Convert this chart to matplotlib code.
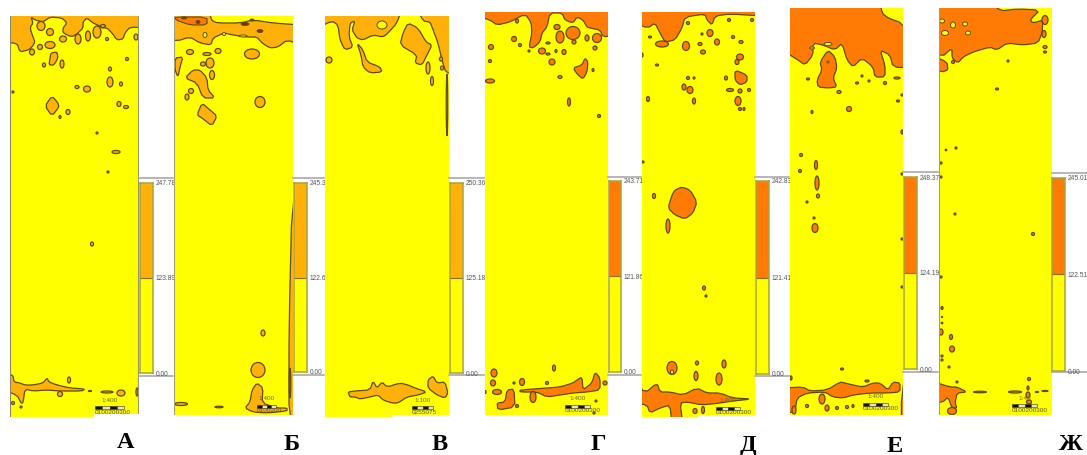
import matplotlib
matplotlib.use("Agg")
import matplotlib.pyplot as plt
from matplotlib.patches import Polygon, Ellipse, Rectangle
import numpy as np

W, H = 1087, 455
YELLOW = "#FFFF00"
AMBER = "#FFB10A"
ORANGE = "#FF7B05"
EDGE = "#5E4A12"

PANEL_NAMES = ["А", "Б", "В", "Г", "Д", "Е", "Ж"]
LABEL_X = [126, 292, 440, 598, 748, 895, 1071]
LABEL_Y = [443, 444, 445, 444, 445, 446, 444]
PANEL_BOX = [(10, 139, 16, 417), (174, 293, 16, 415), (325, 449, 16, 417), (485, 608, 12, 415),
             (642, 755, 12, 417), (790, 903, 8, 415), (939, 1052, 8, 415)]
PANEL_NOTCH = [(94, 414), None, (392, 415), None, (698, 415), None, None]
PANEL_FILL = [AMBER, AMBER, AMBER, ORANGE, ORANGE, ORANGE, ORANGE]
LEGEND_MAX = [247.78, 245.39, 250.36, 243.71, 242.83, 248.37, 245.01]
LEGEND_MID = [123.89, 122.69, 125.18, 121.86, 121.41, 124.19, 122.51]
LEGEND_BAR = [(140, 153, 183, 373), (294, 307, 183, 372), (450, 463, 183, 373), (609, 621, 181, 372),
              (756, 769, 181, 374), (904, 917, 177, 369), (1052, 1065, 178, 371)]
LEGEND_FRAME = [(139, 173, 178, 376), (293, 324, 178, 375), (449, 484, 178, 375), (608, 641, 177, 375),
                (755, 789, 177, 376), (903, 938, 172, 372), (1052, 1087, 173, 372)]
SCALE_TEXT = ["1:400", "1:400", "1:100", "1:400", "1:400", "1:400", "1:40"]
SCALE_BAR = [(95, 124, 406), (257, 276, 405), (412, 433, 406), (565, 590, 405),
             (716, 740, 407), (863, 888, 403), (1012, 1037, 404)]
SCALE_TICKS = ["0100200300", "0100200", "0255075", "0100200300",
               "0100200300", "0100200300", "0100200300"]

A_POLYS = [
    [(10,16),(139,16),(139,28),(130,27),(125,33),(123,39),(117,40),(112,33),(107,28),(102,28),(100,26),(93,23),(87,18),(83,22),(83,28),(78,33),(72,37),(63,33),(63,28),(67,23),(62,18),(50,17),(43,22),(35,20),(31,17),(33,23),(30,28),(33,37),(35,42),(32,47),(28,50),(20,52),(17,43),(10,43)],
    [(52,96),(58,103),(59,107),(52,116),(45,106)],
    [(51,53),(57,52),(58,58),(54,65),(49,65),(50,58)],
    [(10,373),(13,375),(14,382),(20,383),(25,385),(33,385),(43,383),(47,378),(49,382),(57,385),(70,388),(85,389),(82,391),(60,391),(47,390),(33,391),(25,389),(23,403),(21,403),(17,395),(10,390)],
]
A_DOTS = [(50,45,10,7),(97,32,8,12),(110,82,6,10),(87,89,7,6),(119,104,4,5),(126,107,5,3),(68,112,4,5),(60,117,2,3),(121,84,3,4),(110,69,3,4),(127,59,3,3),(77,87,4,3),(62,64,4,8),(44,65,3,4),(13,92,2,2),(107,39,3,3),(136,37,4,6),(40,47,5,5),(32,52,5,6),(50,32,7,7),(63,39,7,6),(78,39,6,10),(88,36,5,10),(41,26,8,9),(103,26,5,3),(116,152,8,3),(97,133,2,2),(108,172,2,2),(92,244,3,4),(69,380,3,6),(60,394,5,5),(21,407,2,2),(13,403,3,3),(107,392,12,2),(121,393,8,6),(137,392,2,8),(90,391,3,1)]
A_HOLES = []

B_POLYS = [
    [(174,16),(210,16),(211,20),(217,23),(240,23),(253,20),(273,23),(293,25),(293,45),(287,40),(278,47),(270,48),(262,43),(257,37),(247,37),(233,35),(224,33),(213,38),(211,45),(200,43),(190,37),(177,41),(174,38)],
    [(200,70),(207,78),(208,90),(215,98),(203,98),(197,83),(185,78),(193,70)],
    [(202,103),(210,110),(217,116),(212,126),(202,118),(197,115)],
    [(175,58),(183,57),(180,67),(178,77),(175,70)],
    [(257,383),(263,388),(262,403),(277,408),(287,408),(287,411),(267,413),(253,412),(245,408),(250,402),(252,390)],
    [(292,200),(293,200),(293,415),(289,415),(289,330)],
]
B_DOTS = [(260,102,10,11),(252,54,15,10),(210,63,8,10),(203,64,5,4),(190,52,7,5),(218,51,6,5),(207,54,8,3),(212,75,5,9),(191,91,5,5),(187,97,4,6),(263,333,4,6),(258,370,14,15),(181,404,13,3),(219,407,8,1.5),(290,383,1.5,30)]
B_HOLES = [(205,35,4,5),(224,34,3,3),(243,36,8,2)]
B_DARK = [[(175,17),(207,17),(207,25),(190,25),(176,20)]]
B_SPECKS = [(245,24,8,3),(260,31,6,3),(184,18,5,2),(198,22,4,3),(252,20,4,2)]

C_POLYS = [
    [(417,16),(449,16),(449,73),(446,73),(442,60),(438,43),(432,27),(430,22),(423,21)],
    [(335,16),(402,16),(397,23),(388,33),(383,37),(373,35),(363,40),(357,38),(352,30),(355,21),(350,23),(349,37),(353,47),(345,50),(340,40),(338,25),(332,21),(325,28),(325,19)],
    [(408,23),(418,28),(426,42),(432,45),(427,55),(422,65),(415,63),(417,55),(400,45),(403,33)],
    [(357,43),(363,50),(367,62),(380,67),(382,72),(370,73),(363,67),(361,55)],
    [(348,392),(355,391),(370,390),(373,381),(377,388),(382,382),(387,387),(400,383),(408,385),(415,388),(427,392),(418,395),(407,397),(398,403),(392,403),(383,400),(378,395),(370,397),(360,399),(355,397),(350,397)],
    [(433,376),(437,383),(445,382),(448,393),(445,398),(437,395),(428,388),(428,380)],
]
C_DOTS = [(329,60,6,6),(428,68,4,12),(432,81,3,9),(442,68,3,4),(441,59,3,4),(447,105,1.5,62)]
C_HOLES = [(382,25,10,8)]

D_POLYS = [
    [(485,12),(608,12),(608,35),(603,37),(600,30),(590,28),(587,27),(583,20),(577,17),(573,23),(565,20),(562,13),(550,13),(547,27),(542,33),(540,42),(533,48),(529,47),(532,33),(531,22),(525,14),(510,22),(497,25),(490,20),(485,16)],
    [(585,58),(588,62),(587,72),(583,79),(578,75),(573,68),(582,65)],
    [(520,390),(547,388),(560,387),(573,383),(577,380),(582,377),(583,390),(592,383),(595,372),(600,378),(600,390),(587,392),(573,393),(560,395),(547,397),(537,392),(520,392)],
    [(507,390),(514,389),(515,407),(498,410),(497,403),(505,402)],
]
D_DOTS = [(560,37,8,12),(573,33,14,13),(597,38,9,9),(587,38,4,6),(574,42,4,4),(557,27,6,5),(548,43,4,2),(542,51,7,6),(552,62,6,6),(520,45,3,3),(514,39,5,5),(491,47,5,5),(490,61,3,3),(490,81,9,4),(517,21,3,4),(529,51,2,2),(548,54,4,2),(556,51,2,3),(564,52,4,5),(560,77,4,3),(569,102,3,8),(599,116,3,3),(595,48,4,4),(593,70,2,3),(494,373,6,8),(493,383,5,6),(497,392,9,5),(522,382,5,7),(533,397,6,11),(554,368,3,6),(547,383,3,3),(514,383,2,2),(605,383,4,4),(596,401,2,2),(517,406,3,3),(594,413,2,2),(485,392,2,3)]
D_HOLES = []

E_POLYS = [
    [(642,12),(755,12),(755,16),(730,14),(715,16),(712,25),(707,20),(705,14),(685,17),(682,28),(675,40),(665,42),(660,33),(655,23),(648,28),(642,23)],
    [(735,70),(747,75),(747,82),(740,85),(735,80)],
    [(682,187),(690,190),(697,202),(693,213),(685,219),(675,215),(668,208),(672,195),(675,190)],
    [(642,380),(645,393),(657,383),(660,392),(670,392),(683,395),(697,388),(707,393),(720,393),(733,398),(752,399),(733,401),(720,403),(702,405),(687,402),(680,403),(683,417),(672,417),(670,405),(660,408),(650,413),(647,405),(642,403)],
]
E_DOTS = [(662,44,13,6),(686,46,7,9),(710,33,6,7),(717,42,5,6),(700,44,4,3),(703,52,5,4),(733,37,3,3),(741,42,4,3),(650,37,3,2),(688,23,3,3),(702,34,2,2),(729,20,3,3),(752,20,3,3),(657,65,3,2),(740,57,7,6),(737,62,4,5),(726,78,3,4),(730,90,7,3),(740,91,4,4),(749,90,3,3),(738,101,6,9),(740,109,3,3),(744,109,2,3),(688,78,3,3),(694,78,2,2),(684,87,4,6),(690,90,6,7),(694,101,3,6),(648,99,3,5),(642,55,2,4),(654,196,3,5),(668,226,4,14),(643,162,2,2),(704,288,3,4),(706,296,2,2),(672,368,10,13),(697,363,3,4),(696,376,4,9),(724,364,4,8),(719,379,6,12),(703,410,3,7),(695,411,4,5)]
E_HOLES = [(672,372,3,4)]

F_POLYS = [
    [(790,8),(880,8),(882,13),(888,18),(902,23),(903,40),(903,68),(893,67),(890,55),(880,50),(885,65),(885,77),(875,77),(873,67),(862,58),(853,67),(847,60),(842,43),(835,50),(823,45),(813,43),(813,55),(805,65),(798,60),(790,50)],
    [(828,50),(835,57),(837,68),(833,78),(837,87),(828,88),(818,87),(817,80),(822,70),(820,62)],
    [(790,388),(803,387),(810,391),(827,390),(840,382),(845,383),(853,385),(863,387),(873,383),(880,383),(888,390),(893,382),(900,383),(900,392),(887,393),(870,393),(853,395),(843,398),(833,397),(825,392),(807,393),(797,398),(795,412),(790,413)],
    [(903,320),(903,415),(899,415)],
]
F_DOTS = [(839,92,4,3),(808,79,3,2),(849,109,5,5),(812,112,2,3),(898,101,3,2),(857,83,3,2),(862,76,2,2),(869,81,2,2),(885,83,3,3),(897,78,6,2),(902,95,2,2),(801,155,3,3),(816,165,3,9),(800,171,3,3),(817,183,4,14),(818,196,3,4),(807,202,2,2),(814,218,2,2),(815,228,6,9),(902,132,2,4),(902,174,2,2),(902,239,2,2),(902,287,2,2),(842,369,3,2),(867,381,4,2),(822,399,6,10),(827,408,4,6),(807,406,3,3),(837,408,3,3),(847,407,3,3),(853,406,2,3),(791,378,2,4),(794,410,4,8)]
F_HOLES = [(828,44,8,3),(812,48,5,2),(828,62,2,2)]

G_POLYS = [
    [(939,8),(990,8),(1000,11),(1017,9),(1040,10),(1030,20),(1033,23),(1043,20),(1042,33),(1038,43),(1023,45),(1007,43),(997,50),(990,47),(973,52),(963,57),(958,63),(952,58),(952,48),(942,57),(939,47)],
    [(939,55),(947,62),(948,70),(942,72),(939,68)],
    [(939,381),(950,387),(957,387),(967,392),(957,393),(955,403),(957,408),(952,408),(948,397),(943,402),(939,403)],
]
G_DOTS = [(1045,20,6,9),(1045,47,4,3),(1045,52,3,2),(1008,61,2,2),(997,89,3,2),(953,62,3,3),(956,148,2,2),(946,150,1.5,1.5),(941,163,2,2),(941,177,2,2),(955,214,2,2),(1033,234,3,3),(941,277,2,2),(942,308,2,3),(942,317,1,1),(942,323,1.5,1.5),(941,332,4,6),(951,337,3,5),(952,349,5,6),(942,356,2,2),(942,360,2,2),(949,367,2,2),(957,382,2,2),(952,411,9,7),(980,392,13,1.5),(1015,392,13,2),(1045,391,6,1),(1029,379,3,3),(1028,388,2,4),(1028,395,4,6),(1037,392,3,1),(1029,402,5,4),(1044,34,4,7)]
G_HOLES = [(953,25,5,6),(965,24,5,4),(945,33,7,5),(968,33,5,4),(942,21,5,4)]

PANEL_POLYS = [A_POLYS, B_POLYS, C_POLYS, D_POLYS, E_POLYS, F_POLYS, G_POLYS]
PANEL_DOTS = [A_DOTS, B_DOTS, C_DOTS, D_DOTS, E_DOTS, F_DOTS, G_DOTS]
PANEL_HOLES = [A_HOLES, B_HOLES, C_HOLES, D_HOLES, E_HOLES, F_HOLES, G_HOLES]
EDGE_LINES = {0: [(10, "#8a8660"), (139, "#9a9a70")], 1: [(174, "#a0a080")], 2: [], 3: [], 4: [],
              5: [], 6: [(939, "#a8a440")]}


def smooth(points, box, rounds=1):
    """Round the corners; vertices exactly on the panel border are pushed out so the fill reaches it."""
    x0, x1, y0, y1 = box
    p = np.asarray(points, dtype=float)
    p[:, 0] = np.where(p[:, 0] <= x0, x0 - 8, np.where(p[:, 0] >= x1, x1 + 8, p[:, 0]))
    p[:, 1] = np.where(p[:, 1] <= y0, y0 - 8, np.where(p[:, 1] >= y1, y1 + 8, p[:, 1]))
    for _ in range(rounds):
        q = np.roll(p, -1, axis=0)
        p = np.column_stack([0.8 * p + 0.2 * q, 0.2 * p + 0.8 * q]).reshape(-1, 2)
    return p


def pixel_axes(fig, x0, x1, y0, y1):
    return fig.add_axes([x0 / W, 1 - y1 / H, (x1 - x0) / W, (y1 - y0) / H])


plt.rcParams["font.family"] = ["Liberation Sans", "DejaVu Sans"]
fig = plt.figure(figsize=(W / 100, H / 100), dpi=100, facecolor="white")

for i, (x0, x1, y0, y1) in enumerate(PANEL_BOX):
    box = PANEL_BOX[i]
    ax = pixel_axes(fig, x0, x1, y0, y1)
    ax.set_xlim(x0, x1)
    ax.set_ylim(y1, y0)
    ax.set_facecolor(YELLOW)
    ax.set_xticks([])
    ax.set_yticks([])
    for s in ax.spines.values():
        s.set_visible(False)
    fill = PANEL_FILL[i]
    for poly in PANEL_POLYS[i]:
        ax.add_patch(Polygon(smooth(poly, box), closed=True, fc=fill, ec=EDGE, lw=0.9, joinstyle="round"))
    for (cx, cy, w, h) in PANEL_DOTS[i]:
        ax.add_patch(Ellipse((cx, cy), w, h, fc=fill, ec=EDGE, lw=0.9))
    for (cx, cy, w, h) in PANEL_HOLES[i]:
        ax.add_patch(Ellipse((cx, cy), w, h, fc=YELLOW, ec=EDGE, lw=0.7))
    if i == 1:
        for poly in B_DARK:
            ax.add_patch(Polygon(smooth(poly, box), closed=True, fc=ORANGE, ec=EDGE, lw=0.8))
        for (cx, cy, w, h) in B_SPECKS:
            ax.add_patch(Ellipse((cx, cy), w, h, fc="#7a3510", ec=EDGE, lw=0.6))
    for (xl, col) in EDGE_LINES[i]:
        ax.axvline(xl, color=col, lw=1.5)
    if PANEL_NOTCH[i]:
        nx, ny = PANEL_NOTCH[i]
        ax.add_patch(Rectangle((nx, ny), x1 - nx, y1 - ny + 2, fc="white", ec="none", zorder=5))

    # scale bar
    sx0, sx1, sy = SCALE_BAR[i]
    edges = np.linspace(sx0, sx1, 5)
    for k in range(4):
        ax.add_patch(Rectangle((edges[k], sy), edges[k + 1] - edges[k], 2.5,
                               fc="#111111" if k % 2 == 0 else "#E8E4C0", ec="#333333", lw=0.4, zorder=6))
    ax.text((sx0 + sx1) / 2, sy - 6, SCALE_TEXT[i], fontsize=4.6, color="#6a6a30", ha="center", va="center", zorder=6)
    ax.text(sx0, sy + 6, SCALE_TICKS[i], fontsize=4.6, color="#55552a", ha="left", va="center", zorder=6, clip_on=True)

    # legend frame and bar
    fx0, fx1, fy0, fy1 = LEGEND_FRAME[i]
    frame = pixel_axes(fig, fx0, fx1, fy0, fy1)
    frame.set_xticks([])
    frame.set_yticks([])
    frame.patch.set_alpha(0)
    for name, s in frame.spines.items():
        s.set_color("#a0a0a8")
        s.set_linewidth(1.1)
        s.set_visible(name in ("top", "bottom"))

    bx0, bx1, by0, by1 = LEGEND_BAR[i]
    leg = pixel_axes(fig, bx0, bx1, by0, by1)
    leg.set_xlim(0, 1)
    leg.set_ylim(0, LEGEND_MAX[i])
    leg.bar(0.5, LEGEND_MID[i], width=1, color=YELLOW)
    leg.bar(0.5, LEGEND_MAX[i] - LEGEND_MID[i], width=1, bottom=LEGEND_MID[i], color=fill)
    leg.axhline(LEGEND_MID[i], color="#8a7020", lw=0.8)
    leg.set_xticks([])
    leg.set_yticks([0, LEGEND_MID[i], LEGEND_MAX[i]])
    leg.set_yticklabels(["0.00", f"{LEGEND_MID[i]:.2f}", f"{LEGEND_MAX[i]:.2f}"], fontsize=4.8, color="#555555")
    leg.yaxis.tick_right()
    leg.tick_params(axis="y", length=0, pad=2)
    for s in leg.spines.values():
        s.set_color("#A8A43A")
        s.set_linewidth(1.1)

    fig.text(LABEL_X[i] / W, 1 - LABEL_Y[i] / H, PANEL_NAMES[i], fontsize=17.5, fontweight="bold",
             family="Liberation Serif", ha="center", va="center", color="black")

fig.savefig("out.png", dpi=100, facecolor="white")
